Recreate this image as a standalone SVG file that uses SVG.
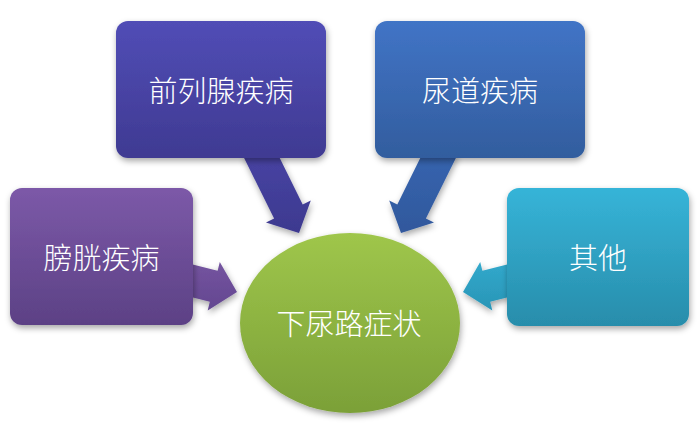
<svg xmlns="http://www.w3.org/2000/svg" width="700" height="435" viewBox="0 0 700 435">
<defs>
<filter id="sh" x="-20%" y="-20%" width="140%" height="150%">
<feDropShadow dx="1" dy="3" stdDeviation="3" flood-color="#000" flood-opacity="0.35"/>
</filter>
<linearGradient id="gPro" x1="0" y1="0" x2="0" y2="1"><stop offset="0" stop-color="#514db6"/><stop offset="1" stop-color="#3f3a92"/></linearGradient>
<linearGradient id="gUre" x1="0" y1="0" x2="0" y2="1"><stop offset="0" stop-color="#4174c6"/><stop offset="1" stop-color="#325d9e"/></linearGradient>
<linearGradient id="gBla" x1="0" y1="0" x2="0" y2="1"><stop offset="0" stop-color="#7c59a8"/><stop offset="1" stop-color="#5c4185"/></linearGradient>
<linearGradient id="gOth" x1="0" y1="0" x2="0" y2="1"><stop offset="0" stop-color="#36b4d8"/><stop offset="1" stop-color="#288dab"/></linearGradient>
<linearGradient id="gLut" x1="0" y1="0" x2="0" y2="1"><stop offset="0" stop-color="#9fc64b"/><stop offset="1" stop-color="#7ba038"/></linearGradient>
<linearGradient id="aPro" x1="0" y1="0" x2="0" y2="1"><stop offset="0" stop-color="#4945a6"/><stop offset="1" stop-color="#3d398f"/></linearGradient>
<linearGradient id="aUre" x1="0" y1="0" x2="0" y2="1"><stop offset="0" stop-color="#3866b2"/><stop offset="1" stop-color="#30589c"/></linearGradient>
<linearGradient id="aBla" x1="0" y1="0" x2="0" y2="1"><stop offset="0" stop-color="#7554a0"/><stop offset="1" stop-color="#634790"/></linearGradient>
<linearGradient id="aOth" x1="0" y1="0" x2="0" y2="1"><stop offset="0" stop-color="#31a9cc"/><stop offset="1" stop-color="#2a95b6"/></linearGradient>
</defs>
<style>
.box{filter:url(#sh);}
.lbl{font-family:"Noto Sans CJK SC","Noto Sans",sans-serif;font-size:29px;font-weight:300;fill:#ffffff;text-anchor:middle;dominant-baseline:central;}
.arr{filter:url(#sh);}
</style>
<rect width="700" height="435" fill="#ffffff"/>
<g id="connectors">
<polygon class="arr" fill="url(#aPro)" points="271.2,140.8 302.7,204.4 310.8,200.4 299,233 266,222.6 274.1,218.6 242.6,155"/>
<polygon class="arr" fill="url(#aUre)" points="428.8,140.8 397.3,204.4 389.2,200.4 401,233 434,222.6 425.9,218.6 457.4,155"/>
<polygon class="arr" fill="url(#aBla)" points="177.8,260.8 217.6,270.7 219.8,261.9 237,292 207.7,310.5 209.8,301.7 170,291.8"/>
<polygon class="arr" fill="url(#aOth)" points="522.2,260.8 482.4,270.7 480.2,261.9 463,292 492.3,310.5 490.2,301.7 530,291.8"/>
</g>
<g id="prostate">
<rect class="box" x="116" y="21" width="210" height="137" rx="12" fill="url(#gPro)"/>
<text class="lbl" x="221" y="89">前列腺疾病</text>
</g>
<g id="urethra">
<rect class="box" x="375" y="21" width="210" height="137" rx="12" fill="url(#gUre)"/>
<text class="lbl" x="480" y="89">尿道疾病</text>
</g>
<g id="bladder">
<rect class="box" x="10" y="188" width="183" height="137" rx="12" fill="url(#gBla)"/>
<text class="lbl" x="101.5" y="256">膀胱疾病</text>
</g>
<g id="other">
<rect class="box" x="507" y="188" width="182" height="138" rx="12" fill="url(#gOth)"/>
<text class="lbl" x="598" y="256">其他</text>
</g>
<g id="luts">
<ellipse class="box" cx="350" cy="323" rx="110" ry="90" fill="url(#gLut)"/>
<text class="lbl" x="349" y="322">下尿路症状</text>
</g>
</svg>
